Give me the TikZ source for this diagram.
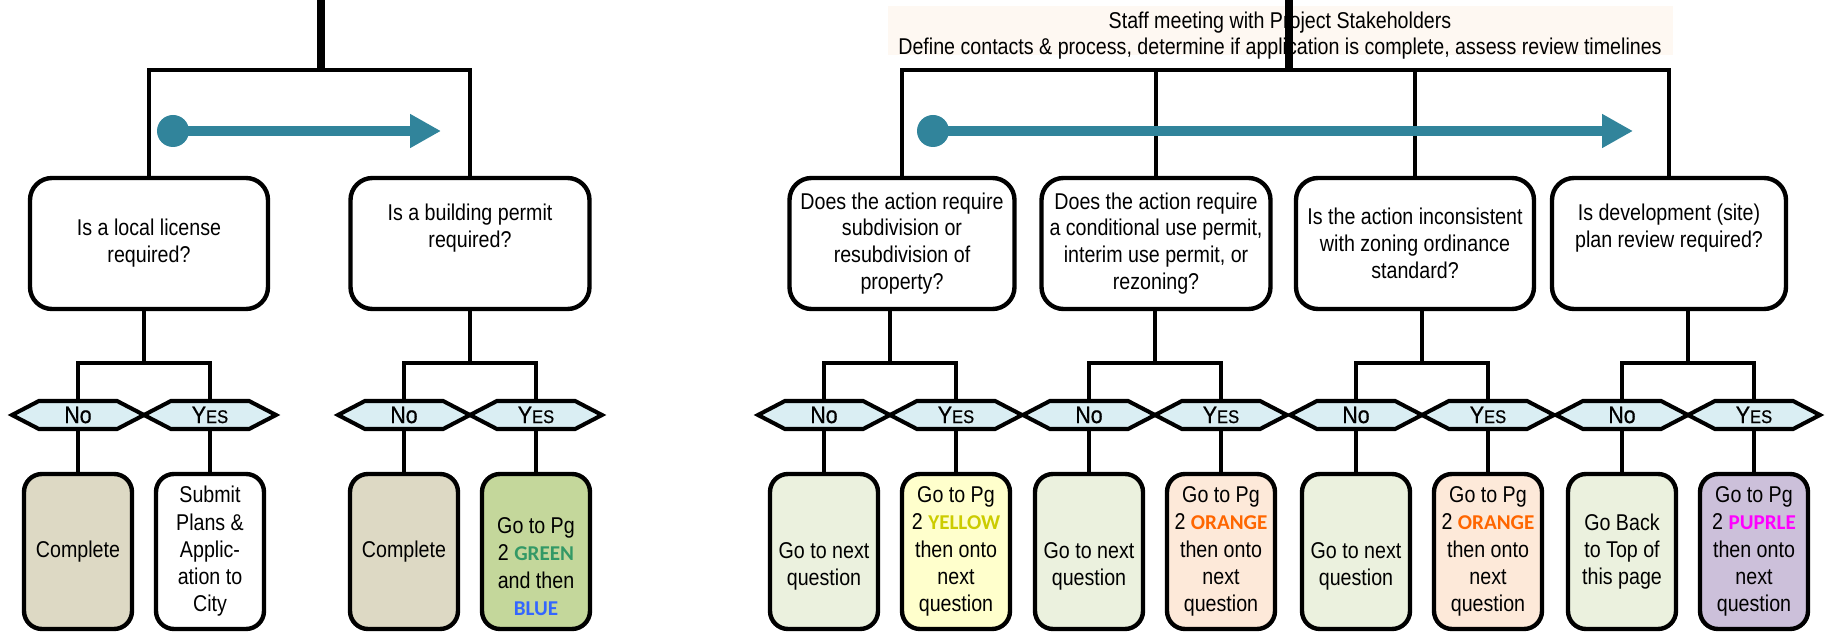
\documentclass[tikz,border=0pt]{standalone}
\usepackage{fontspec}
\setmainfont{Liberation Sans}[FakeStretch=0.86]
\newfontfamily\tagfont{Carlito}
\newfontfamily\hexfont{Liberation Sans}[FakeStretch=0.9,FakeBold=0.6]
\usetikzlibrary{shapes.symbols}
\usetikzlibrary{arrows.meta}
\definecolor{flowteal}{HTML}{31849B}
\definecolor{hexblue}{HTML}{DAEEF3}
\definecolor{tanbox}{HTML}{DDD9C4}
\definecolor{greenbox}{HTML}{C4D79B}
\definecolor{nextgreen}{HTML}{EBF1DE}
\definecolor{yellowbox}{HTML}{FFFFCC}
\definecolor{peachbox}{HTML}{FDE9D9}
\definecolor{purplebox}{HTML}{CCC0DA}
\definecolor{bannerpeach}{HTML}{FEF8F2}
\definecolor{taggreen}{HTML}{339966}
\definecolor{tagblue}{HTML}{3366FF}
\definecolor{tagyellow}{HTML}{CCCC00}
\definecolor{tagorange}{HTML}{FF6600}
\definecolor{tagpurple}{HTML}{FF00FF}
\newcommand{\pgtag}[2]{{\color{#1}\tagfont\bfseries\fontsize{12}{10}\selectfont #2}}
\newcommand{\yestext}{Y{\fontsize{10.5}{10}\selectfont ES}}
\tikzset{
	% question boxes
	qbox/.style={draw, line width=2.5pt, rounded corners=4.4mm, fill=white, align=center,
		minimum height=26.2mm, inner sep=0pt, font=\fontsize{13}{15.3}\selectfont},
	% answer boxes
	resbox/.style={draw, line width=2.5pt, rounded corners=3.6mm, align=center,
		minimum width=21.6mm, minimum height=31mm, inner sep=0pt, font=\fontsize{13}{15.5}\selectfont},
	% no / yes tags
	yesno/.style={signal, signal to=west and east, signal pointer angle=55, draw, line width=2.3pt,
		fill=hexblue, minimum width=26.4mm, minimum height=5.6mm, inner sep=0pt,
		font=\hexfont\fontsize{13.5}{13}\selectfont},
	banner/.style={fill=bannerpeach, minimum width=157mm, minimum height=9.8mm, inner sep=0pt},
	bannertext/.style={align=center, inner sep=0pt, font=\fontsize{13}{14.8}\selectfont},
	conn/.style={line width=2.5pt},
	trunk/.style={line width=5pt},
	flow/.style={line width=6.2pt, flowteal, -{Triangle[length=6.2mm,width=6.4mm]}},
	startdot/.style={circle, fill=flowteal, minimum size=6.4mm, inner sep=0pt},
}
\begin{document}
\begin{tikzpicture}[x=0.2mm,y=-0.2mm]
	\useasboundingbox (0,0) rectangle (1829,632);
	
	% left tree
	\coordinate (inL) at (321,0);
	\coordinate (busL) at (321,70);
	\node[qbox, minimum width=47.6mm] (qL1) at (149,243.5) {Is a local license\\required?};
	\node[qbox, minimum width=47.8mm] (qL2) at (470,243.5) {Is a building permit\\required?\\\strut};
	\draw[trunk] (inL) -- (busL);
	\draw[conn] (qL1.north) |- (busL) -| (qL2.north);
	\node[startdot] (dotL) at (173,131) {};
	\coordinate (tipL) at (441,131);
	\draw[flow] (dotL.center) -- (tipL);
	
	\node[yesno] (noL1) at (78,415) {No};
	\node[yesno] (yesL1) at (210,415) {\yestext};
	\node[yesno] (noL2) at (404,415) {No};
	\node[yesno] (yesL2) at (536,415) {\yestext};
	
	\node[resbox, fill=tanbox] (rnL1) at (78,551.5) {Complete};
	\node[resbox, fill=white] (ryL1) at (210,551.5) {Submit\\Plans \&\\Applic-\\ation to\\City};
	\node[resbox, fill=tanbox] (rnL2) at (404,551.5) {Complete};
	\node[resbox, fill=greenbox] (ryL2) at (536,551.5) {\strut\\Go to Pg\\2 \pgtag{taggreen}{GREEN}\\and then\\\pgtag{tagblue}{BLUE}};
	
	\coordinate (jL1) at (144,363);
	\draw[conn] (jL1 |- qL1.south) -- (jL1);
	\draw[conn] (noL1.north) |- (jL1) -| (yesL1.north);
	\draw[conn] (noL1.south) -- (rnL1.north);
	\draw[conn] (yesL1.south) -- (ryL1.north);
	
	\coordinate (jL2) at (470,363);
	\draw[conn] (jL2 |- qL2.south) -- (jL2);
	\draw[conn] (noL2.north) |- (jL2) -| (yesL2.north);
	\draw[conn] (noL2.south) -- (rnL2.north);
	\draw[conn] (yesL2.south) -- (ryL2.north);
	
	% right tree
	\node[banner] (meetbg) at (1280,31) {};
	\node[bannertext] (meet) at (1280,36) {Staff meeting with Project Stakeholders\\Define contacts \& process, determine if application is complete, assess review timelines};
	\coordinate (inR) at (1289,0);
	\coordinate (busR) at (1289,70);
	\node[qbox, minimum width=45mm] (qR1) at (902,243.5) {Does the action require\\subdivision or\\resubdivision of\\property?};
	\node[qbox, minimum width=45.8mm] (qR2) at (1156,243.5) {Does the action require\\a conditional use permit,\\interim use permit, or\\rezoning?};
	\node[qbox, minimum width=47.6mm] (qR3) at (1415,243.5) {Is the action inconsistent\\with zoning ordinance\\standard?};
	\node[qbox, minimum width=46.8mm] (qR4) at (1669,243.5) {Is development (site)\\plan review required?\\\strut};
	\draw[trunk] (inR) -- (busR);
	\draw[conn] (qR1.north) |- (busR) -| (qR4.north);
	\draw[conn] (qR2.north) -- (qR2.north |- busR);
	\draw[conn] (qR3.north) -- (qR3.north |- busR);
	\node[startdot] (dotR) at (933,131) {};
	\coordinate (tipR) at (1633,131);
	\draw[flow] (dotR.center) -- (tipR);
	
	\node[yesno] (noR1) at (824,415) {No};
	\node[yesno] (yesR1) at (956,415) {\yestext};
	\node[yesno] (noR2) at (1089,415) {No};
	\node[yesno] (yesR2) at (1221,415) {\yestext};
	\node[yesno] (noR3) at (1356,415) {No};
	\node[yesno] (yesR3) at (1488,415) {\yestext};
	\node[yesno] (noR4) at (1622,415) {No};
	\node[yesno] (yesR4) at (1754,415) {\yestext};
	
	\node[resbox, fill=nextgreen] (rnR1) at (824,551.5) {\strut\\Go to next\\question};
	\node[resbox, fill=yellowbox] (ryR1) at (956,551.5) {Go to Pg\\2 \pgtag{tagyellow}{YELLOW}\\then onto\\next\\question};
	\node[resbox, fill=nextgreen] (rnR2) at (1089,551.5) {\strut\\Go to next\\question};
	\node[resbox, fill=peachbox] (ryR2) at (1221,551.5) {Go to Pg\\2 \pgtag{tagorange}{ORANGE}\\then onto\\next\\question};
	\node[resbox, fill=nextgreen] (rnR3) at (1356,551.5) {\strut\\Go to next\\question};
	\node[resbox, fill=peachbox] (ryR3) at (1488,551.5) {Go to Pg\\2 \pgtag{tagorange}{ORANGE}\\then onto\\next\\question};
	\node[resbox, fill=nextgreen] (rnR4) at (1622,551.5) {Go Back\\to Top of\\this page};
	\node[resbox, fill=purplebox] (ryR4) at (1754,551.5) {Go to Pg\\2 \pgtag{tagpurple}{PUPRLE}\\then onto\\next\\question};
	
	\coordinate (jR1) at (890,363);
	\draw[conn] (jR1 |- qR1.south) -- (jR1);
	\draw[conn] (noR1.north) |- (jR1) -| (yesR1.north);
	\draw[conn] (noR1.south) -- (rnR1.north);
	\draw[conn] (yesR1.south) -- (ryR1.north);
	
	\coordinate (jR2) at (1155,363);
	\draw[conn] (jR2 |- qR2.south) -- (jR2);
	\draw[conn] (noR2.north) |- (jR2) -| (yesR2.north);
	\draw[conn] (noR2.south) -- (rnR2.north);
	\draw[conn] (yesR2.south) -- (ryR2.north);
	
	\coordinate (jR3) at (1422,363);
	\draw[conn] (jR3 |- qR3.south) -- (jR3);
	\draw[conn] (noR3.north) |- (jR3) -| (yesR3.north);
	\draw[conn] (noR3.south) -- (rnR3.north);
	\draw[conn] (yesR3.south) -- (ryR3.north);
	
	\coordinate (jR4) at (1688,363);
	\draw[conn] (jR4 |- qR4.south) -- (jR4);
	\draw[conn] (noR4.north) |- (jR4) -| (yesR4.north);
	\draw[conn] (noR4.south) -- (rnR4.north);
	\draw[conn] (yesR4.south) -- (ryR4.north);
	
\end{tikzpicture}
\end{document}
